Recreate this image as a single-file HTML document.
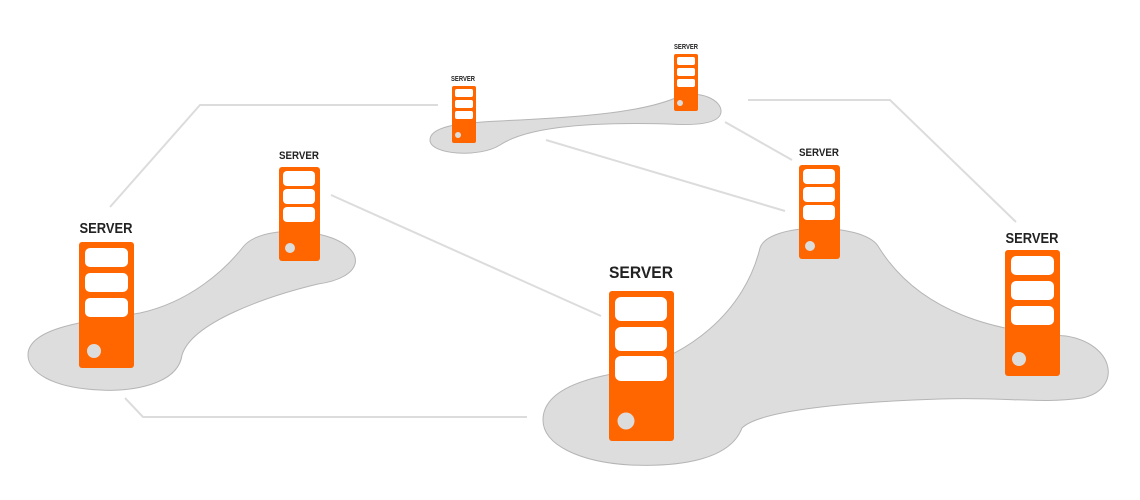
<!DOCTYPE html>
<html><head><meta charset="utf-8"><style>
html,body{margin:0;padding:0;background:#fff;}
svg{display:block;}
text{font-family:"Liberation Sans","DejaVu Sans",sans-serif;font-weight:bold;fill:#222;text-anchor:middle;}
</style></head><body>
<svg width="1140" height="500" viewBox="0 0 1140 500" xmlns="http://www.w3.org/2000/svg">
<g fill="none" stroke="#dcdcdc" stroke-width="2">
<polyline points="110,207 200,105 438,105"/>
<polyline points="125,398 143,417 527,417"/>
<line x1="331" y1="195" x2="601" y2="316"/>
<line x1="546" y1="140" x2="785" y2="211"/>
<line x1="725" y1="122" x2="792" y2="160"/>
<polyline points="748,100 890,100 1016,222"/>
</g>
<g fill="#dddddd" stroke="#b5b5b5" stroke-width="1">
<path d="M28 355 C28 325 100 320 140 313 C190 302 225 270 243 247 C258 228 305 228 332 238 C368 252 362 278 318 284 C268 296 192 322 182 355 C178 385 130 392 100 390 C52 388 28 372 28 355 Z"/>
<path d="M430 140 C430 124 470 122 520 120 C600 116 650 110 680 96 C700 90 722 100 721 112 C720 123 700 126 668 124 C600 122 530 125 500 145 C480 158 430 155 430 140 Z"/>
<path d="M543 420 C543 392 580 380 612 374 C690 360 745 310 760 248 C768 222 862 222 878 246 C920 315 1000 332 1066 336 C1116 344 1122 390 1082 398 C1040 404 1010 397 940 399 C850 402 760 410 742 428 C730 460 680 467 630 465 C580 462 543 445 543 420 Z"/>
</g>
<!-- S1 -->
<text x="106" y="233" font-size="15" textLength="53" lengthAdjust="spacingAndGlyphs">SERVER</text>
<rect x="79" y="242" width="55" height="126" rx="3" fill="#ff6600"/>
<g fill="#fff"><rect x="85" y="248" width="43" height="19" rx="5"/><rect x="85" y="273" width="43" height="19" rx="5"/><rect x="85" y="298" width="43" height="19" rx="5"/></g>
<circle cx="94" cy="351" r="7" fill="#dcdcdc"/>
<!-- S2 -->
<text x="299" y="159" font-size="11" textLength="40" lengthAdjust="spacingAndGlyphs">SERVER</text>
<rect x="279" y="167" width="41" height="94" rx="3" fill="#ff6600"/>
<g fill="#fff"><rect x="283" y="171" width="32" height="15" rx="4"/><rect x="283" y="189" width="32" height="15" rx="4"/><rect x="283" y="207" width="32" height="15" rx="4"/></g>
<circle cx="290" cy="248" r="5" fill="#dcdcdc"/>
<!-- S3 -->
<text x="463" y="81" font-size="7" textLength="24" lengthAdjust="spacingAndGlyphs">SERVER</text>
<rect x="452" y="86" width="24" height="57" rx="2" fill="#ff6600"/>
<g fill="#fff"><rect x="455" y="89" width="18" height="8" rx="2"/><rect x="455" y="100" width="18" height="8" rx="2"/><rect x="455" y="111" width="18" height="8" rx="2"/></g>
<circle cx="458" cy="135" r="3" fill="#dcdcdc"/>
<!-- S4 -->
<text x="686" y="49" font-size="7" textLength="24" lengthAdjust="spacingAndGlyphs">SERVER</text>
<rect x="674" y="54" width="24" height="57" rx="2" fill="#ff6600"/>
<g fill="#fff"><rect x="677" y="57" width="18" height="8" rx="2"/><rect x="677" y="68" width="18" height="8" rx="2"/><rect x="677" y="79" width="18" height="8" rx="2"/></g>
<circle cx="680" cy="103" r="3" fill="#dcdcdc"/>
<!-- S5 -->
<text x="819" y="156" font-size="11" textLength="40" lengthAdjust="spacingAndGlyphs">SERVER</text>
<rect x="799" y="165" width="41" height="94" rx="3" fill="#ff6600"/>
<g fill="#fff"><rect x="803" y="169" width="32" height="15" rx="4"/><rect x="803" y="187" width="32" height="15" rx="4"/><rect x="803" y="205" width="32" height="15" rx="4"/></g>
<circle cx="810" cy="246" r="5" fill="#dcdcdc"/>
<!-- S6 -->
<text x="641" y="278" font-size="17" textLength="64" lengthAdjust="spacingAndGlyphs">SERVER</text>
<rect x="609" y="291" width="65" height="150" rx="3" fill="#ff6600"/>
<g fill="#fff"><rect x="615" y="297" width="52" height="24" rx="6"/><rect x="615" y="327" width="52" height="24" rx="6"/><rect x="615" y="356" width="52" height="25" rx="6"/></g>
<circle cx="626" cy="421" r="8.5" fill="#dcdcdc"/>
<!-- S7 -->
<text x="1032" y="243" font-size="15" textLength="53" lengthAdjust="spacingAndGlyphs">SERVER</text>
<rect x="1005" y="250" width="55" height="126" rx="3" fill="#ff6600"/>
<g fill="#fff"><rect x="1011" y="256" width="43" height="19" rx="5"/><rect x="1011" y="281" width="43" height="19" rx="5"/><rect x="1011" y="306" width="43" height="19" rx="5"/></g>
<circle cx="1019" cy="359" r="7" fill="#dcdcdc"/>
</svg>
</body></html>
